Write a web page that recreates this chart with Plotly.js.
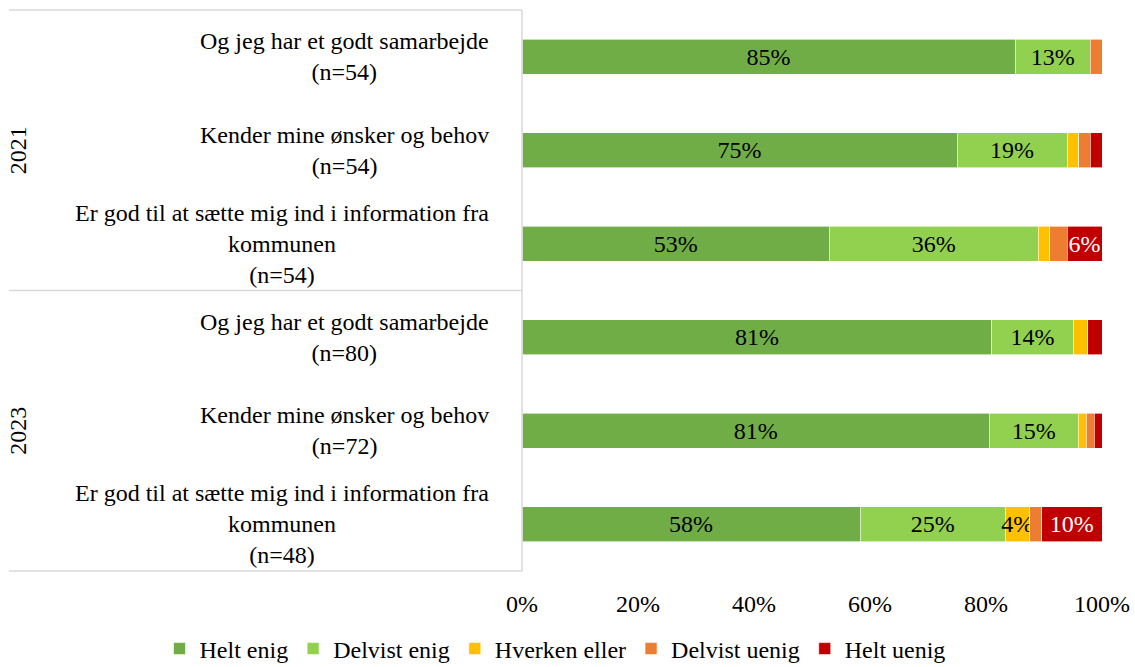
<!DOCTYPE html>
<html>
<head>
<meta charset="utf-8">
<script src="https://cdn.plot.ly/plotly-3.0.1.min.js"></script>
<style>html,body{margin:0;padding:0;background:#fff;}#chart{width:1135px;height:667px;}</style>
</head>
<body>
<div id="chart"></div>
<script>
// Data
const years = ["2021", "2021", "2021", "2023", "2023", "2023"];
const questions = [
  "Og jeg har et godt samarbejde<br>(n=54)",
  "Kender mine ønsker og behov<br>(n=54)",
  "Er god til at sætte mig ind i information fra<br>kommunen<br>(n=54)",
  "Og jeg har et godt samarbejde<br>(n=80)",
  "Kender mine ønsker og behov<br>(n=72)",
  "Er god til at sætte mig ind i information fra<br>kommunen<br>(n=48)"
];
const seriesNames = ["Helt enig", "Delvist enig", "Hverken eller", "Delvist uenig", "Helt uenig"];
const heltEnig     = [85, 75, 53, 81, 80.6, 58.3];
const delvistEnig  = [13, 19, 36, 14, 15.3, 25];
const hverken      = [0, 2, 2, 2.5, 1.4, 4.2];
const delvistUenig = [2, 2, 3, 0, 1.4, 2.1];
const heltUenig    = [0, 2, 6, 2.5, 1.4, 10.4];
const xTicks = [0, 20, 40, 60, 80, 100];

const colors = ["#70AD47", "#92D050", "#FFC000", "#ED7D31", "#C00000"];
const textColors = ["#000", "#000", "#000", "#000", "#fff"];
const allSeries = [heltEnig, delvistEnig, hverken, delvistUenig, heltUenig];
const ids = questions.map((q, i) => years[i] + "_" + i);
const FONT = "Liberation Serif";
const FS = 24;

const traces = allSeries.map((vals, k) => ({
  type: "bar",
  orientation: "h",
  name: seriesNames[k],
  y: ids,
  x: vals,
  text: vals.map(v => v >= 3.5 ? Math.round(v) + "%" : ""),
  textposition: "inside",
  insidetextanchor: "middle",
  textangle: 0,
  constraintext: "none",
  textfont: {family: FONT, size: FS, color: textColors[k]},
  marker: {color: colors[k], line: {color: "#fff", width: 0.6}},
  hoverinfo: "skip"
}));

const annotations = [];
questions.forEach((q, i) => {
  annotations.push({
    xref: "paper", yref: "y", x: 0, y: ids[i], xanchor: "right", yanchor: "middle",
    xshift: -31, text: q, align: "center", showarrow: false,
    font: {family: FONT, size: FS, color: "#000"}
  });
});
[["2021", ids[1]], ["2023", ids[4]]].forEach(([yr, id]) => {
  annotations.push({
    xref: "paper", yref: "y", x: 0, y: id, xanchor: "center", yanchor: "middle",
    xshift: -504, text: yr, textangle: -90, showarrow: false,
    font: {family: FONT, size: FS, color: "#000"}
  });
});

const lineCol = "#d9d9d9";
const shapes = [
  {type: "line", xref: "paper", yref: "paper", x0: -513/580, x1: 0, y0: 1, y1: 1, line: {color: lineCol, width: 1.5}},
  {type: "line", xref: "paper", yref: "paper", x0: -513/580, x1: 0, y0: 0.5, y1: 0.5, line: {color: lineCol, width: 1.5}},
  {type: "line", xref: "paper", yref: "paper", x0: -513/580, x1: 0, y0: 0, y1: 0, line: {color: lineCol, width: 1.5}},
  {type: "line", xref: "paper", yref: "paper", x0: 0, x1: 0, y0: 0, y1: 1, line: {color: lineCol, width: 1.5}}
];

const layout = {
  width: 1135, height: 667,
  margin: {l: 522, r: 33, t: 10, b: 96, autoexpand: false},
  paper_bgcolor: "#fff", plot_bgcolor: "#fff",
  barmode: "stack",
  bargap: 0.63,
  showlegend: true,
  legend: {
    orientation: "h", x: -0.625, xanchor: "left", y: -0.139, yanchor: "middle",
    font: {family: FONT, size: FS, color: "#000"}, traceorder: "normal",
    itemwidth: 30
  },
  xaxis: {
    range: [0, 100], tickvals: xTicks, ticktext: xTicks.map(v => v + "%"),
    showgrid: false, zeroline: false, showline: false, ticks: "",
    ticklabelstandoff: 16,
    tickfont: {family: FONT, size: FS, color: "#000"}, fixedrange: true
  },
  yaxis: {
    type: "category", autorange: "reversed", showticklabels: false,
    showgrid: false, zeroline: false, showline: false, ticks: "", fixedrange: true
  },
  annotations: annotations,
  shapes: shapes
};

Plotly.newPlot("chart", traces, layout, {displayModeBar: false, staticPlot: true});
</script>
</body>
</html>
